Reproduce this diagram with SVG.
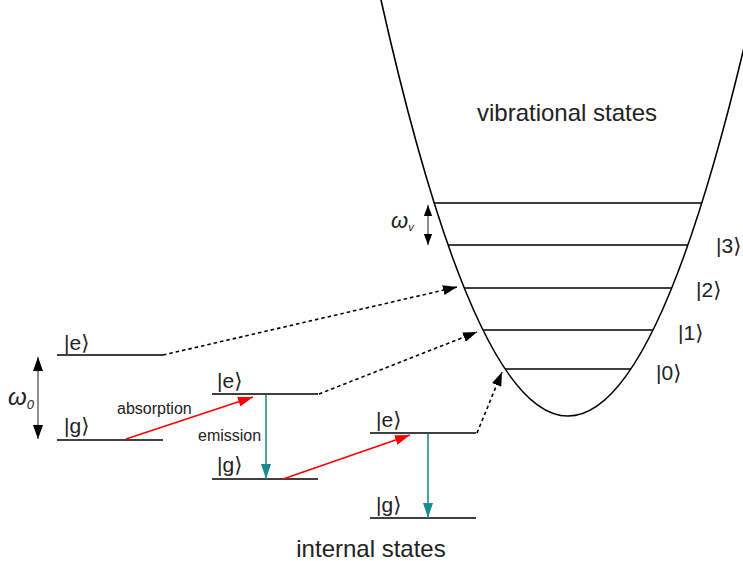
<svg xmlns="http://www.w3.org/2000/svg" width="743" height="561" viewBox="0 0 743 561">
<defs>
<style>
.lvl{stroke:#000;stroke-width:1.6;fill:none}
.t{font-family:"Liberation Sans","DejaVu Sans",Arial,sans-serif;fill:#222}
.ket{font-size:21px}
.big{font-size:24px}
.sm{font-size:16px}
.w{font-family:"Liberation Sans","DejaVu Sans",Arial,sans-serif;font-style:italic;fill:#222}
.dot{stroke:#000;stroke-width:1.6;stroke-dasharray:3.5 3;fill:none}
.red{stroke:#f00;stroke-width:1.6;fill:none}
.teal{stroke:#1a8c8c;stroke-width:1.6;fill:none}
.dbl{stroke:#444;stroke-width:1.2;fill:none}
</style>
<marker id="hb" viewBox="0 0 14 10" refX="14" refY="5" markerWidth="14" markerHeight="10" markerUnits="userSpaceOnUse" orient="auto"><path d="M0,0 L14,5 L0,10 Z" fill="#000"/></marker>
<marker id="hbs" viewBox="0 0 12 9" refX="12" refY="4.5" markerWidth="11" markerHeight="9" markerUnits="userSpaceOnUse" orient="auto-start-reverse"><path d="M0,0 L12,4.5 L0,9 Z" fill="#000"/></marker>
<marker id="hbl" viewBox="0 0 14 10" refX="14" refY="5" markerWidth="14" markerHeight="10" markerUnits="userSpaceOnUse" orient="auto-start-reverse"><path d="M0,0 L14,5 L0,10 Z" fill="#000"/></marker>
<marker id="hr" viewBox="0 0 15 10" refX="15" refY="5" markerWidth="15" markerHeight="10" markerUnits="userSpaceOnUse" orient="auto"><path d="M0,0 L15,5 L0,10 Z" fill="#f00"/></marker>
<marker id="ht" viewBox="0 0 15 10" refX="15" refY="5" markerWidth="15" markerHeight="10" markerUnits="userSpaceOnUse" orient="auto"><path d="M0,0 L15,5 L0,10 Z" fill="#1a8c8c"/></marker>
</defs>
<rect width="743" height="561" fill="#fff"/>

<g id="vibrational">
<path class="lvl" d="M381,0 Q568,832 755,0"/>
<line class="lvl" x1="434" y1="203" x2="702" y2="203"/>
<line class="lvl" x1="448" y1="245" x2="688" y2="245"/>
<line class="lvl" x1="464" y1="288" x2="672" y2="288"/>
<line class="lvl" x1="483" y1="330" x2="653" y2="330"/>
<line class="lvl" x1="505" y1="369" x2="631" y2="369"/>
<text class="t big" x="567" y="121" text-anchor="middle">vibrational states</text>
<text class="t ket" x="716" y="253">|3⟩</text>
<text class="t ket" x="696" y="297">|2⟩</text>
<text class="t ket" x="678" y="340">|1⟩</text>
<text class="t ket" x="656" y="380">|0⟩</text>
<text class="w" x="391" y="228" font-size="22">ω<tspan font-size="11" dy="3">v</tspan></text>
</g>

<g id="internal1">
<line class="lvl" x1="57" y1="355" x2="163" y2="355"/>
<line class="lvl" x1="57" y1="440" x2="163" y2="440"/>
<text class="t ket" x="64" y="350">|e⟩</text>
<text class="t ket" x="64" y="433">|g⟩</text>
<text class="w" x="8" y="405" font-size="24">ω<tspan font-size="13" dy="4">0</tspan></text>
</g>

<g id="internal2">
<line class="lvl" x1="212" y1="394" x2="318" y2="394"/>
<line class="lvl" x1="212" y1="479" x2="318" y2="479"/>
<text class="t ket" x="217" y="388">|e⟩</text>
<text class="t ket" x="217" y="472">|g⟩</text>
</g>

<g id="internal3">
<line class="lvl" x1="370" y1="433" x2="476" y2="433"/>
<line class="lvl" x1="370" y1="518" x2="476" y2="518"/>
<text class="t ket" x="376" y="427">|e⟩</text>
<text class="t ket" x="376" y="512">|g⟩</text>
</g>

<g id="labels">
<text class="t sm" x="117" y="414">absorption</text>
<text class="t sm" x="198" y="441">emission</text>
<text class="t big" x="371" y="557" text-anchor="middle">internal states</text>
</g>

<g id="connectors">
<line class="dbl" x1="38" y1="357" x2="38" y2="439" marker-start="url(#hbl)" marker-end="url(#hbl)"/>
<line class="dbl" x1="428" y1="205" x2="428" y2="245" marker-start="url(#hbs)" marker-end="url(#hbs)"/>
<line class="red" x1="126" y1="439" x2="253" y2="397" marker-end="url(#hr)"/>
<line class="red" x1="283" y1="479" x2="410" y2="435" marker-end="url(#hr)"/>
<line class="teal" x1="266" y1="395" x2="266" y2="479" marker-end="url(#ht)"/>
<line class="teal" x1="428" y1="434" x2="428" y2="518" marker-end="url(#ht)"/>
<line class="dot" x1="163" y1="355" x2="457" y2="287" marker-end="url(#hb)"/>
<line class="dot" x1="319" y1="394" x2="477" y2="332" marker-end="url(#hb)"/>
<line class="dot" x1="477" y1="433" x2="502" y2="372" marker-end="url(#hb)"/>
</g>
</svg>
